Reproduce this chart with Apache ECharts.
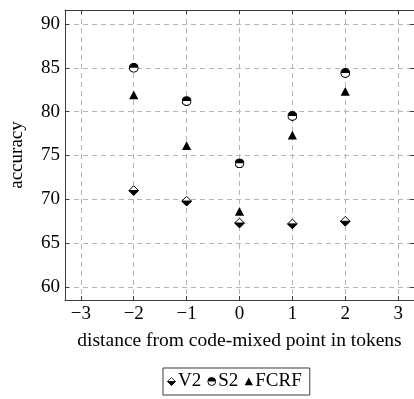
<!DOCTYPE html>
<html><head><meta charset="utf-8">
<script src="https://cdn.jsdelivr.net/npm/echarts@6/dist/echarts.min.js"></script>
<style>html,body{margin:0;padding:0;background:#fff}#c{width:414px;height:399px}</style>
</head><body><div id="c"></div>
<script>
const distances = [-2, -1, 0, 1, 2];
const v2 = [71.0, 69.8, 67.3, 67.2, 67.5];
const s2 = [85.0, 81.2, 74.1, 79.5, 84.4];
const fcrf = [81.9, 76.1, 68.6, 77.3, 82.3];
const xTicks = [-3, -2, -1, 0, 1, 2, 3];
const yTicks = [60, 65, 70, 75, 80, 85, 90];
const seriesNames = ['V2', 'S2', 'FCRF'];

function svgUri(s){return 'image://data:image/svg+xml;charset=utf-8,' + encodeURIComponent(s);}
const icons = {
  V2: svgUri("<svg xmlns='http://www.w3.org/2000/svg' width='11' height='11' viewBox='0 0 11 11'><polygon points='5.5,0.7 10.3,5.5 5.5,10.3 0.7,5.5' fill='white' stroke='black' stroke-width='1'/><polygon points='0.7,5.5 10.3,5.5 5.5,10.3' fill='black' stroke='black' stroke-width='1' stroke-linejoin='round'/></svg>"),
  S2: svgUri("<svg xmlns='http://www.w3.org/2000/svg' width='10' height='10' viewBox='0 0 10 10'><circle cx='5' cy='5' r='4.4' fill='white' stroke='black' stroke-width='1.1'/><path d='M0.6 5 A4.4 4.4 0 0 1 9.4 5 Z' fill='black'/></svg>"),
  FCRF: svgUri("<svg xmlns='http://www.w3.org/2000/svg' width='10' height='10' viewBox='0 0 10 10'><polygon points='5,0.5 9.6,9.2 0.4,9.2' fill='black'/></svg>")
};
const serif = '"Liberation Serif", "DejaVu Serif", serif';
const frameColor = '#3a3a3a';
const fmt = v => (v < 0 ? '\u2212' + Math.abs(v) : String(v));

function pairs(arr){return distances.map((d,i)=>[d, arr[i]]);}

const chart = echarts.init(document.getElementById('c'), null, {renderer:'canvas'});
const xBase = {
  type:'value', min:-3.3, max:3.3,
  axisLine:{show:true, onZero:false, lineStyle:{color:frameColor, width:1}},
  axisTick:{show:true, inside:true, length:4, customValues:xTicks, lineStyle:{color:frameColor}},
  splitLine:{show:false}
};
const yBase = {
  type:'value', min:58.52, max:91.59,
  axisLine:{show:true, onZero:false, lineStyle:{color:frameColor, width:1}},
  axisTick:{show:true, inside:true, length:4, customValues:yTicks, lineStyle:{color:frameColor}},
  splitLine:{show:false}
};
const markerStyle = {opacity:1};
chart.setOption({
  animation:false,
  grid:{left:65, right:-1, top:10, bottom:99, containLabel:false},
  xAxis:[
    Object.assign({}, xBase, {
      position:'bottom',
      name:'distance from code-mixed point in tokens', nameLocation:'middle', nameGap:31,
      nameTextStyle:{fontFamily:serif, fontSize:19.5, color:'#000'},
      axisLabel:{show:true, customValues:xTicks, formatter:fmt, margin:5, fontFamily:serif, fontSize:19, color:'#000'},
      splitLine:{show:true, lineStyle:{color:'#b5b5b5', type:[5,4], width:1}}
    }),
    Object.assign({}, xBase, {position:'top', axisLabel:{show:false}})
  ],
  yAxis:[
    Object.assign({}, yBase, {
      position:'left',
      name:'accuracy', nameLocation:'middle', nameGap:38, nameRotate:90,
      nameTextStyle:{fontFamily:serif, fontSize:19, color:'#000'},
      axisLabel:{show:true, customValues:yTicks, margin:5, fontFamily:serif, fontSize:19, color:'#000'},
      splitLine:{show:true, lineStyle:{color:'#b5b5b5', type:[5,4], width:1}}
    }),
    Object.assign({}, yBase, {position:'right', axisLabel:{show:false}})
  ],
  legend:{
    left:163, top:368, orient:'horizontal',
    data: seriesNames.map(n=>({name:n, icon:icons[n]})),
    itemWidth:9, itemHeight:9, itemGap:6,
    borderColor:frameColor, borderWidth:1, borderRadius:0,
    padding:[4,8,4,4],
    textStyle:{fontFamily:serif, fontSize:19, color:'#000', padding:[0,0,0,-3]}
  },
  series:[
    {name:'V2', type:'scatter', data:pairs(v2), symbol:icons.V2, symbolSize:11, z:3, itemStyle:markerStyle},
    {name:'S2', type:'scatter', data:pairs(s2), symbol:icons.S2, symbolSize:10, z:3, itemStyle:markerStyle},
    {name:'FCRF', type:'scatter', data:pairs(fcrf), symbol:icons.FCRF, symbolSize:10, z:3, itemStyle:markerStyle}
  ]
});
</script>
</body></html>
